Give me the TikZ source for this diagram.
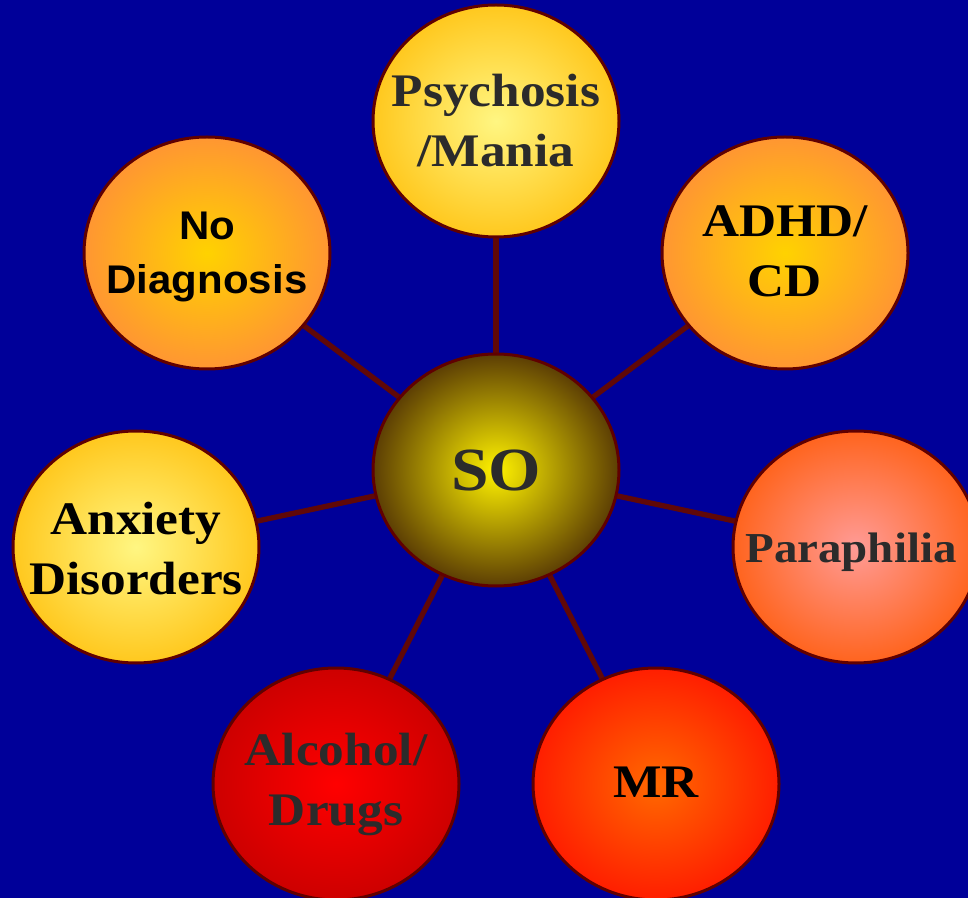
\documentclass[tikz,border=0pt]{standalone}
\usepackage{fontspec}
\setmainfont[FakeStretch=1.1]{Liberation Serif}
\newfontfamily\sansbold[FakeStretch=1.05]{Liberation Sans}
\usetikzlibrary{shapes.geometric,backgrounds}
\definecolor{bg}{RGB}{0,0,153}
\definecolor{rim}{RGB}{96,0,0}
\definecolor{link}{RGB}{96,8,8}
\definecolor{txtgray}{RGB}{43,43,43}
\tikzset{
  bubble/.style={ellipse, minimum width=184.5pt, minimum height=174pt, inner sep=0pt,
    draw=rim, line width=2.25pt},
  caption/.style={align=center, inner sep=0pt, font=\fontsize{35}{45}\selectfont\bfseries},
  yellowball/.style={bubble, inner color={rgb,255:red,255;green,246;blue,130}, outer color={rgb,255:red,255;green,200;blue,30}},
  orangeball/.style={bubble, inner color={rgb,255:red,255;green,210;blue,0}, outer color={rgb,255:red,255;green,150;blue,50}},
  connector/.style={draw=link, line width=4pt}
}
\begin{document}
\begin{tikzpicture}[x=0.75pt,y=-0.75pt]
\useasboundingbox (0,0) rectangle (968,898);
\clip (0,0) rectangle (968,898);

\node[bubble, inner color={rgb,255:red,255;green,242;blue,0}, outer color={rgb,255:red,92;green,62;blue,4},
      label={[caption, font=\fontsize{46}{50}\selectfont\bfseries, text=txtgray]center:SO}] (so) at (496,470) {};
\node[yellowball, label={[caption, text=txtgray]center:Psychosis\\/Mania}] (psy) at (496,121) {};
\node[orangeball, label={[caption, font=\sansbold\fontsize{30}{40}\selectfont\bfseries, text=black, yshift=-3pt]center:No\\Diagnosis}] (nod) at (207,253) {};
\node[orangeball, label={[caption, text=black, yshift=1pt]center:ADHD/\\CD}] (adhd) at (785,253) {};
\node[yellowball, label={[caption, text=black, yshift=-1pt]center:Anxiety\\Disorders}] (anx) at (136,547) {};
\node[bubble, inner color={rgb,255:red,255;green,155;blue,150}, outer color={rgb,255:red,255;green,100;blue,30},
      label={[caption, font=\fontsize{32}{40}\selectfont\bfseries, text=txtgray, xshift=-3.75pt, yshift=-4pt]center:Paraphilia}] (par) at (856,547) {};
\node[bubble, inner color={rgb,255:red,255;green,0;blue,0}, outer color={rgb,255:red,205;green,0;blue,0},
      label={[caption, text=txtgray]center:Alcohol/\\Drugs}] (alc) at (336,784) {};
\node[bubble, inner color={rgb,255:red,255;green,105;blue,0}, outer color={rgb,255:red,255;green,30;blue,0},
      label={[caption, text=black, yshift=1pt]center:MR}] (mr) at (656,784) {};

\begin{scope}[on background layer]
  \fill[bg] (0,0) rectangle (968,898);
  \foreach \n in {psy,nod,adhd,anx,par,alc,mr}
    \draw[connector] (so.center) -- (\n.center);
\end{scope}
\end{tikzpicture}
\end{document}
